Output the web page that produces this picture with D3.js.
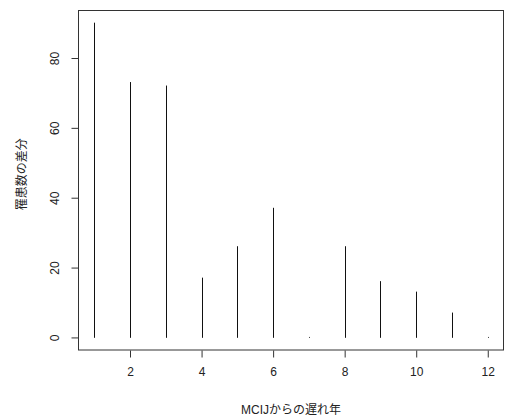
<!DOCTYPE html>
<html>
<head>
<meta charset="utf-8">
<script src="https://cdn.jsdelivr.net/npm/d3@7"></script>
<style>
  body { margin: 0; background: #fff; }
  text { font-family: "Liberation Sans", Arial, "Noto Sans CJK JP", sans-serif; fill: #222; }
</style>
</head>
<body>
<svg></svg>
<script>
const years = [1, 2, 3, 4, 5, 6, 7, 8, 9, 10, 11, 12]
const diffs = [90, 73, 72, 17, 26, 37, 0, 26, 16, 13, 7, 0]
const xTicks = [2, 4, 6, 8, 10, 12]
const yTicks = [0, 20, 40, 60, 80]

let width = 505,
    height = 420,
    plotLeft = 78.5,
    plotRight = 503.5,
    plotTop = 10.5,
    plotBottom = 350

const svg = d3.select("svg")
    .attr("width", width)
    .attr("height", height)

// R style 4% padding on each side
const x = d3.scaleLinear().domain([0.56, 12.44]).range([plotLeft, plotRight])
const y = d3.scaleLinear().domain([-3.6, 93.6]).range([plotBottom, plotTop])

// plot frame
svg.append("rect")
    .attr("x", plotLeft)
    .attr("y", plotTop)
    .attr("width", plotRight - plotLeft)
    .attr("height", plotBottom - plotTop)
    .attr("fill", "none")
    .attr("stroke", "#333")

// vertical lines (type = "h")
svg.selectAll("line.bar")
    .data(years)
    .enter()
    .append("line")
    .attr("class", "bar")
    .attr("x1", d => Math.round(x(d)) + 0.5)
    .attr("x2", d => Math.round(x(d)) + 0.5)
    .attr("y1", y(0))
    .attr("y2", (d, i) => y(diffs[i]))
    .attr("stroke", "#111")
    .attr("stroke-width", 1)
    .attr("stroke-linecap", "round")

// x axis
const xAxis = d3.axisBottom(x)
    .tickValues(xTicks)
    .tickSize(7)
    .tickPadding(10)
    .tickFormat(d3.format("d"))

const gx = svg.append("g")
    .attr("transform", `translate(0,${plotBottom + 0.5})`)
    .call(xAxis)
gx.select(".domain").remove()
gx.selectAll("line").attr("stroke", "#333")
gx.selectAll("text").attr("font-size", 12).style("fill", "#222")

// y axis
const yAxis = d3.axisLeft(y)
    .tickValues(yTicks)
    .tickSize(7)
    .tickPadding(0)

const gy = svg.append("g")
    .attr("transform", `translate(${plotLeft},0)`)
    .call(yAxis)
gy.select(".domain").remove()
gy.selectAll("line").attr("stroke", "#333")
gy.selectAll("text")
    .attr("font-size", 12)
    .style("fill", "#222")
    .attr("x", 0).attr("dy", null)
    .attr("text-anchor", "middle")
    .attr("transform", "translate(-24,0) rotate(-90)")
    .attr("y", 4)

// axis titles
svg.append("text")
    .attr("x", (plotLeft + plotRight) / 2)
    .attr("y", 414)
    .attr("text-anchor", "middle")
    .attr("font-size", 12)
    .text("MCIJからの遅れ年")

svg.append("text")
    .attr("transform", `translate(26,${(plotTop + plotBottom) / 2 - 6}) rotate(-90)`)
    .attr("text-anchor", "middle")
    .attr("font-size", 12)
    .text("罹患数の差分")
</script>
</body>
</html>
